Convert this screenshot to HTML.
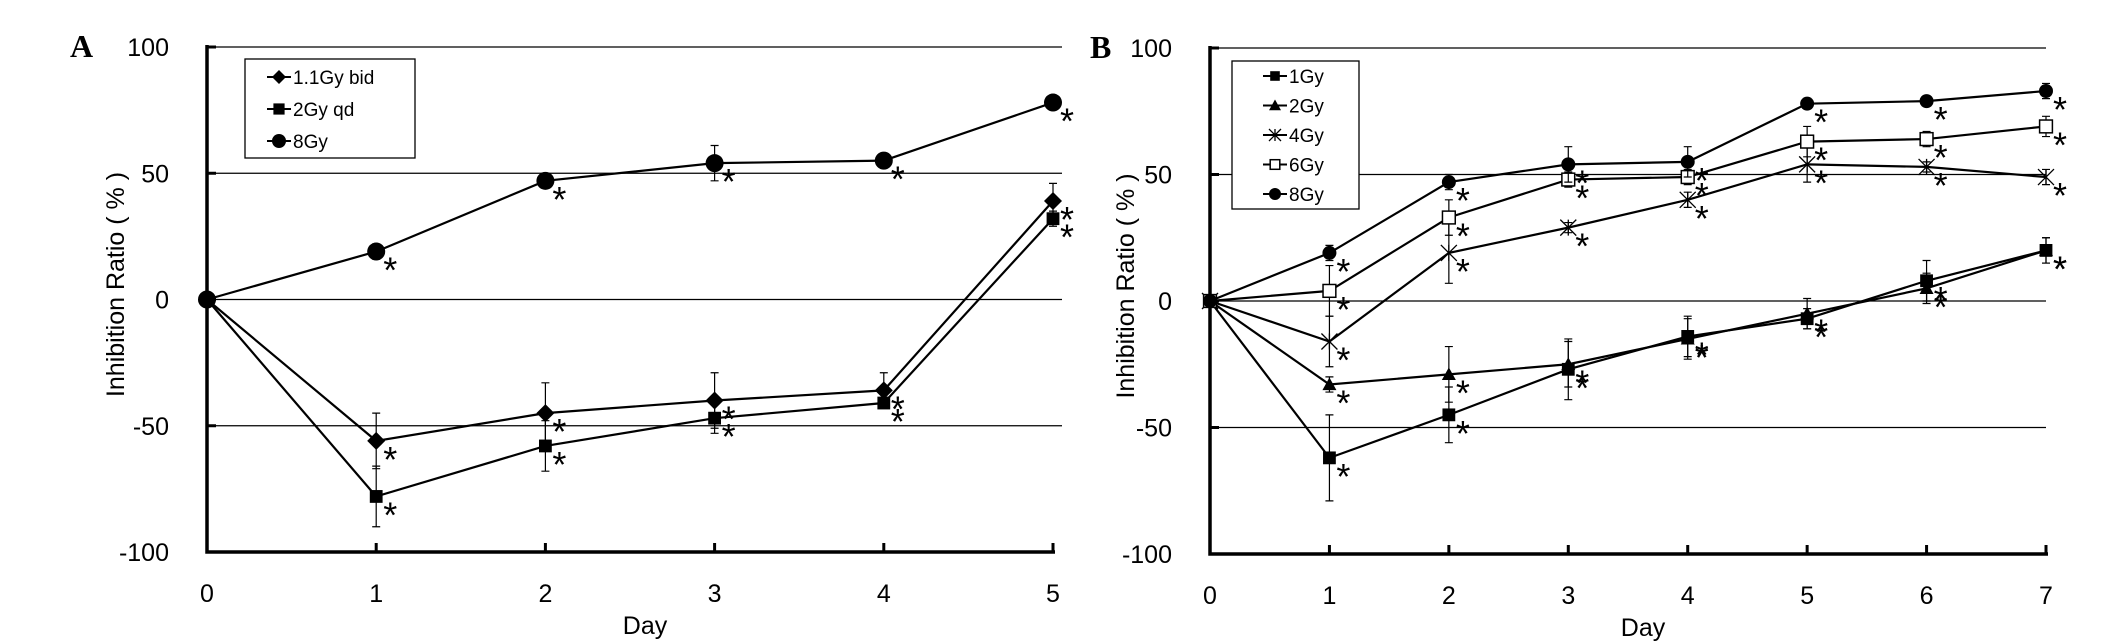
<!DOCTYPE html>
<html><head><meta charset="utf-8"><style>
html,body{margin:0;padding:0;background:#fff}
svg{display:block;font-family:"Liberation Sans",sans-serif}
</style></head><body>
<svg id="c" width="2126" height="643" viewBox="0 0 2126 643"></svg>
<script>
const daysA=[0,1,2,3,4,5];
const seriesA_names=["1.1Gy bid","2Gy qd","8Gy"];
const a_bid=[0,-56,-45,-40,-36,39];
const a_bid_err=[0,11,12,11,7,7];
const a_qd=[0,-78,-58,-47,-41,32];
const a_qd_err=[0,12,10,6,2,3];
const a_8=[0,19,47,54,55,78];
const a_8_err=[0,3,3,7,1,1];
const daysB=[0,1,2,3,4,5,6,7];
const seriesB_names=["1Gy","2Gy","4Gy","6Gy","8Gy"];
const b_1=[0,-62,-45,-27,-14,-7,8,20];
const b_1_err=[0,17,11,12,8,4,8,5];
const b_2=[0,-33,-29,-25,-15,-5,5,20];
const b_2_err=[0,3,11,9,8,6,6,5];
const b_4=[0,-16,19,29,40,54,53,49];
const b_4_err=[0,10,12,2,3,7,2,3];
const b_6=[0,4,33,48,49,63,64,69];
const b_6_err=[0,10,7,3,3,6,3,4];
const b_8=[0,19,47,54,55,78,79,83];
const b_8_err=[0,3,3,7,6,2,1,3];
const yTicks=[100,50,0,-50,-100];

const NS="http://www.w3.org/2000/svg";
const svg=document.getElementById('c');
function el(t,a,p){const e=document.createElementNS(NS,t);for(const k in a)e.setAttribute(k,a[k]);(p||svg).appendChild(e);return e;}
function marker(g,type,x,y,s){
  let m;
  if(type==='diamond'){m=el('polygon',{points:`${x},${y-s} ${x+s},${y} ${x},${y+s} ${x-s},${y}`,fill:'#000'},g);}
  else if(type==='square'){m=el('rect',{x:x-s*0.8,y:y-s*0.8,width:s*1.6,height:s*1.6,fill:'#000'},g);}
  else if(type==='squareOpen'){m=el('rect',{x:x-s*0.8,y:y-s*0.8,width:s*1.6,height:s*1.6,fill:'#fff',stroke:'#000','stroke-width':1.5},g);}
  else if(type==='circle'){m=el('circle',{cx:x,cy:y,r:s,fill:'#000'},g);}
  else if(type==='triangle'){m=el('polygon',{points:`${x},${y-s} ${x+s},${y+s*0.8} ${x-s},${y+s*0.8}`,fill:'#000'},g);}
  else if(type==='x'){m=el('path',{d:`M${x-s},${y-s}L${x+s},${y+s}M${x-s},${y+s}L${x+s},${y-s}M${x},${y-s}L${x},${y+s}`,stroke:'#000','stroke-width':1.3,fill:'none'},g);}
  return m;
}
function panel(cfg){
  const {x0,x1,maxDay,yTop,yBot,gridRight,label,labelX,titleX,series,legend,mk}=cfg;
  const X=d=>x0+(x1-x0)*d/maxDay;
  const Y=v=>yBot-(v+100)/200*(yBot-yTop);
  const g=el('g',{});
  
  
  yTicks.forEach(t=>{
    if(t!==-100){const l=el('line',{x1:x0,x2:gridRight,y1:Y(t),y2:Y(t),stroke:'#000','stroke-width':1.2},g);
      }
    el('line',{x1:x0,x2:x0+9,y1:Y(t),y2:Y(t),stroke:'#000','stroke-width':3},g);
    const tx=el('text',{x:x0-38,y:Y(t)+9,'text-anchor':'end','font-size':25},g);tx.textContent=t;
    
  });
  for(let d=0;d<=maxDay;d++){
    el('line',{x1:X(d),x2:X(d),y1:Y(-100),y2:Y(-100)-9,stroke:'#000','stroke-width':3},g);
    const tx=el('text',{x:X(d),y:Y(-100)+50,'text-anchor':'middle','font-size':25},g);tx.textContent=d;
    
  }
  const ax=el('path',{d:`M${x0},${yTop-2}L${x0},${yBot}L${x1+2},${yBot}`,stroke:'#000','stroke-width':3.5,fill:'none'},g);
  
  const dt=el('text',{x:(x0+x1)/2+15,y:yBot+82,'text-anchor':'middle','font-size':25},g);dt.textContent='Day';
  
  const yt=el('text',{x:0,y:0,'text-anchor':'middle','font-size':25,transform:`translate(${titleX},${(yTop+yBot)/2-15}) rotate(-90)`},g);
  yt.textContent='Inhibition Ratio\u00a0(\u00a0%\u00a0)';
  
  const pl=el('text',{x:labelX,y:yTop+10,'font-size':32,'font-weight':'bold','font-family':'Liberation Serif, serif'},g);pl.textContent=label;
  
  series.forEach(s=>{
    const sg=el('g',{},g);
    
    
    el('polyline',{points:s.vals.map((v,i)=>X(daysArr(maxDay)[i])+','+Y(v)).join(' '),fill:'none',stroke:'#000','stroke-width':2.2},sg);
    s.vals.forEach((v,i)=>{
      const d=i, e=s.err[i], x=X(d), y=Y(v);
      if(e>0){
        el('path',{d:`M${x},${Y(v+e)}L${x},${Y(v-e)}M${x-4},${Y(v+e)}L${x+4},${Y(v+e)}M${x-4},${Y(v-e)}L${x+4},${Y(v-e)}`,stroke:'#000','stroke-width':1.2,fill:'none'},sg);
      }
      const m=marker(sg,s.m,x,y,mk[s.m]);
      
      if(d>0){const st=el('text',{x:x+14,y:y+31,'font-size':36,'text-anchor':'middle'},sg);st.textContent='*';
        }
    });
  });
  const lg=el('g',{},g);
  
  el('rect',{x:legend.x,y:legend.y,width:legend.w,height:legend.h,fill:'#fff',stroke:'#000','stroke-width':1.3},lg);
  series.forEach((s,i)=>{
    const ly=legend.y+legend.first+i*legend.step, lx=legend.x+legend.mx;
    const eg=el('g',{},lg);
    
    el('line',{x1:lx-12,x2:lx+12,y1:ly,y2:ly,stroke:'#000','stroke-width':2},eg);
    marker(eg,s.m,lx,ly,legend.ms);
    const t=el('text',{x:lx+14,y:ly+7,'font-size':19},eg);t.textContent=s.name;
  });
}
function daysArr(n){return n===5?daysA:daysB;}
panel({name:'panel-a',x0:207,x1:1053,maxDay:5,yTop:47,yBot:552,gridRight:1062,label:'A',labelX:70,titleX:124,
  mk:{diamond:9,square:8,circle:9},
  series:[{name:seriesA_names[0],vals:a_bid,err:a_bid_err,m:'diamond'},{name:seriesA_names[1],vals:a_qd,err:a_qd_err,m:'square'},{name:seriesA_names[2],vals:a_8,err:a_8_err,m:'circle'}],
  legend:{x:245,y:59,w:170,h:99,first:18,step:32,mx:34,ms:7}});
panel({name:'panel-b',x0:1210,x1:2046,maxDay:7,yTop:48,yBot:554,gridRight:2046,label:'B',labelX:1090,titleX:1134,
  mk:{square:8,triangle:7,x:8,squareOpen:8,circle:7},
  series:[{name:seriesB_names[0],vals:b_1,err:b_1_err,m:'square'},{name:seriesB_names[1],vals:b_2,err:b_2_err,m:'triangle'},{name:seriesB_names[2],vals:b_4,err:b_4_err,m:'x'},{name:seriesB_names[3],vals:b_6,err:b_6_err,m:'squareOpen'},{name:seriesB_names[4],vals:b_8,err:b_8_err,m:'circle'}],
  legend:{x:1232,y:61,w:127,h:148,first:15,step:29.5,mx:43,ms:6}});
</script>
</body></html>
